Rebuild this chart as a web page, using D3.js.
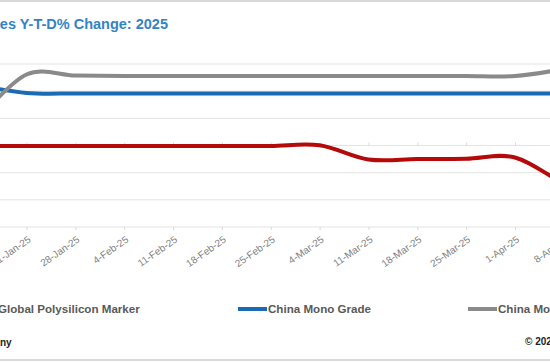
<!DOCTYPE html>
<html>
<head>
<meta charset="utf-8">
<script src="https://cdn.jsdelivr.net/npm/d3@7"></script>
<style>
  body { margin: 0; background: #fff; }
  svg { display: block; }
  .grid line { stroke: #e3e3e3; stroke-width: 1; }
  .line { fill: none; stroke-width: 4; stroke-linecap: round; stroke-linejoin: round; }
</style>
</head>
<body>
<div id="chart"></div>
<script>
const W = 550, H = 362;

// weekly dates (first and last are partly outside the visible crop)
const dates = ["2025-01-14", "2025-01-21", "2025-01-28", "2025-02-04", "2025-02-11", "2025-02-18",
  "2025-02-25", "2025-03-04", "2025-03-11", "2025-03-18", "2025-03-25", "2025-04-01", "2025-04-08"];

// Y-T-D % change
const globalMarker = [-0.05, -0.04, -0.04, -0.04, -0.04, -0.04, -0.03, 0.02, -1.03, -1.0, -0.98, -0.88, -2.91];
const chinaMonoGrade = [4.45, 3.87, 3.83, 3.83, 3.83, 3.83, 3.83, 3.83, 3.83, 3.83, 3.83, 3.83, 3.83];
const chinaMonoPremium = [1.88, 5.23, 5.15, 5.12, 5.12, 5.12, 5.12, 5.12, 5.12, 5.12, 5.12, 5.12, 5.63];

const yTicks = [-6, -4, -2, 0, 2, 4, 6];

const seriesNames = ["Global Polysilicon Marker", "China Mono Grade", "China Mono Premium"];
const seriesColors = ["#b40a0a", "#1a6bb5", "#8a8a8a"];
const seriesValues = [globalMarker, chinaMonoGrade, chinaMonoPremium];

const parse = d3.timeParse("%Y-%m-%d");
const dateObjs = dates.map(parse);

const x = d3.scaleTime()
  .domain([dateObjs[1], dateObjs[11]])
  .range([26.5, 515]);

const y = d3.scaleLinear()
  .domain([-6, 6])
  .range([227, 64]);

const svg = d3.select("#chart").append("svg")
  .attr("width", W)
  .attr("height", H);

// outer frame
svg.append("line").attr("x1", 0).attr("x2", W).attr("y1", 1).attr("y2", 1)
  .attr("stroke", "#d9d9d9").attr("stroke-width", 2);
svg.append("line").attr("x1", 0).attr("x2", W).attr("y1", 360).attr("y2", 360)
  .attr("stroke", "#d9d9d9").attr("stroke-width", 2);

// title
svg.append("text")
  .attr("x", 168).attr("y", 29)
  .attr("text-anchor", "end")
  .style("font-family", "'Liberation Sans', Arial, sans-serif")
  .style("font-size", "14.5px")
  .style("font-weight", "bold")
  .style("fill", "#3583c6")
  .text("es Y-T-D% Change: 2025");

// horizontal gridlines
svg.append("g").attr("class", "grid")
  .selectAll("line")
  .data(yTicks)
  .enter().append("line")
    .attr("x1", 0).attr("x2", W)
    .attr("y1", d => y(d)).attr("y2", d => y(d));

// tick marks on zero line and bottom
svg.append("g")
  .attr("transform", "translate(0," + y(0) + ")")
  .call(d3.axisTop(x).tickValues(dateObjs).tickSize(3).tickFormat(""))
  .call(g => g.select(".domain").remove())
  .call(g => g.selectAll("line").attr("stroke", "#d9d9d9"));

svg.append("g")
  .attr("transform", "translate(0," + y(-6) + ")")
  .call(d3.axisBottom(x).tickValues(dateObjs).tickSize(3).tickFormat(""))
  .call(g => g.select(".domain").remove())
  .call(g => g.selectAll("line").attr("stroke", "#d9d9d9"));

// x labels
const fmt = d3.timeFormat("%-d-%b-%y");
svg.append("g")
  .selectAll("text")
  .data(dateObjs)
  .enter().append("text")
    .attr("transform", d => "translate(" + (x(d) + 5) + ",241) rotate(-35)")
    .attr("text-anchor", "end")
    .style("font-family", "'Liberation Sans', Arial, sans-serif")
    .style("font-size", "10px")
    .style("fill", "#808080")
    .text(d => fmt(d));

// lines
const line = d3.line()
  .x((d, i) => x(dateObjs[i]))
  .y(d => y(d))
  .curve(d3.curveCardinal.tension(0));

svg.selectAll(".line")
  .data(seriesValues)
  .enter().append("path")
    .attr("class", "line")
    .attr("d", d => line(d))
    .style("stroke", (d, i) => seriesColors[i]);

// legend
const legendX = [-40, 238, 468];
const legend = svg.append("g")
  .selectAll("g")
  .data(seriesNames)
  .enter().append("g")
    .attr("transform", (d, i) => "translate(" + legendX[i] + ",309)");

legend.append("line")
  .attr("x1", 0).attr("x2", 29)
  .attr("stroke", (d, i) => seriesColors[i])
  .attr("stroke-width", 4);

legend.append("text")
  .attr("x", (d, i) => i === 0 ? 38 : 30)
  .attr("dy", "0.35em")
  .style("font-family", "'Liberation Sans', Arial, sans-serif")
  .style("font-size", "11.6px")
  .style("font-weight", "bold")
  .style("fill", "#595959")
  .text(d => d);

// footer
svg.append("text")
  .attr("x", 0).attr("y", 346)
  .style("font-family", "'Liberation Sans', Arial, sans-serif")
  .style("font-size", "10px")
  .style("font-weight", "bold")
  .style("fill", "#222")
  .text("ny");

svg.append("text")
  .attr("x", 525).attr("y", 345)
  .style("font-family", "'Liberation Sans', Arial, sans-serif")
  .style("font-size", "10px")
  .style("font-weight", "bold")
  .style("fill", "#222")
  .text("© 2025");
</script>
</body>
</html>
